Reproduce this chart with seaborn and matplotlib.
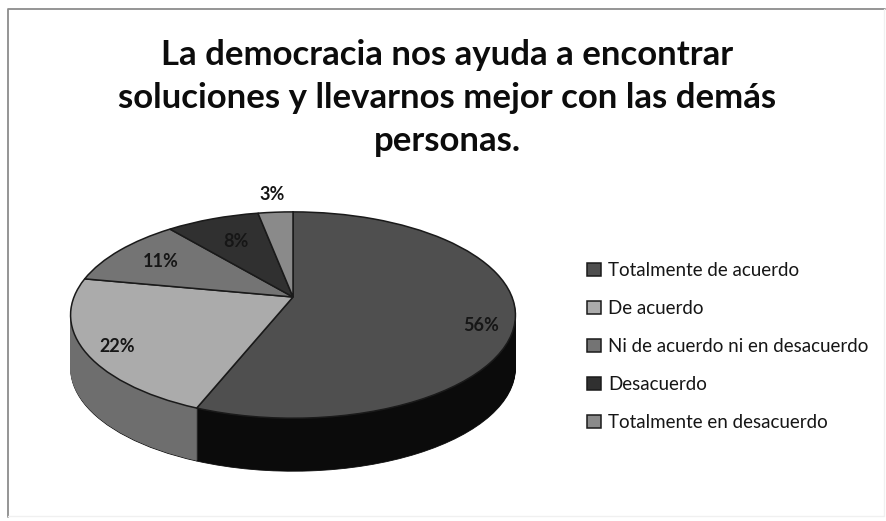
import numpy as np
import matplotlib
matplotlib.use('Agg')
import matplotlib.pyplot as plt
from matplotlib.lines import Line2D
from matplotlib.transforms import Affine2D, Transform
import seaborn as sns

# Chart data
title = 'La democracia nos ayuda a encontrar\nsoluciones y llevarnos mejor con las demás\npersonas.'
categories = ['Totalmente de acuerdo', 'De acuerdo', 'Ni de acuerdo ni en desacuerdo',
              'Desacuerdo', 'Totalmente en desacuerdo']
values = [56, 22, 11, 8, 3]
top_colors = ['#4f4f4f', '#ababab', '#747474', '#303030', '#8a8a8a']
side_colors = ['#0b0b0b', '#6e6e6e', '#555555', '#222222', '#666666']

sns.set_theme(style='white')
plt.rcParams['font.family'] = ['Lato', 'DejaVu Sans']


class Tilted(Transform):
    """Projects the unit circle of the pie onto the tilted disc, in pixels."""
    input_dims = 2
    output_dims = 2
    cx, cy = 293, 297
    a, b, k = 219, 100, 0.175

    def transform_non_affine(self, values):
        x, y = np.asarray(values).T
        w = 1 + self.k * y
        return np.column_stack([self.cx + self.a * x / w, self.cy - self.b * y / w])


fig = plt.figure(figsize=(8.86, 5.21), dpi=100)
ax = fig.add_axes([0, 0, 1, 1])
tilted = Tilted()

# Side of the pie: stacked copies going up to the top face
depth = 53
for d in range(depth, 0, -1):
    wedges, _ = ax.pie(values, colors=side_colors, startangle=90, counterclock=False,
                       wedgeprops={'linewidth': 0.6})
    for w in wedges:
        w.set_edgecolor('#111111' if d == depth else w.get_facecolor())
        w.set_transform(tilted + Affine2D().translate(0, d) + ax.transData)

wedges, _ = ax.pie(values, colors=top_colors, startangle=90, counterclock=False,
                   wedgeprops={'linewidth': 1.1, 'edgecolor': '#1a1a1a'})
for w in wedges:
    w.set_transform(tilted + ax.transData)

ax.set_aspect('auto')
ax.set_xlim(0, 886)
ax.set_ylim(521, 0)
ax.axis('off')

# Percent labels, placed along the middle of each slice
label_radius = [0.85, 0.85, 0.75, 0.68, 1.25]
label_shift = [12, 5, 0, 0, 0]
edges = np.cumsum([0] + values)
for i, v in enumerate(values):
    ang = np.radians((edges[i] + v / 2) * 3.6)
    px, py = tilted.transform_non_affine(
        np.array([[label_radius[i] * np.sin(ang), label_radius[i] * np.cos(ang)]]))[0]
    ax.text(px, py + label_shift[i], f'{v}%', ha='center', va='center', fontsize=13,
            fontweight='bold', color='#161616')

ax.text(447, 98, title, ha='center', va='center', fontsize=25, fontweight='bold',
        color='#0c0c0c', linespacing=1.42)

ax.legend(wedges, categories, loc='upper left', bbox_to_anchor=(587 / 886, 1 - 262 / 521),
          frameon=False, fontsize=13.5, labelspacing=1.12, handlelength=0.72, handleheight=0.72,
          handletextpad=0.42, labelcolor='#161616', borderpad=0, borderaxespad=0)

# Chart frame: left and top are clear in the scan, right and bottom almost gone
ax.add_line(Line2D([8, 8, 885], [517, 9, 9], color='#8c8c8c', linewidth=1.3))
ax.add_line(Line2D([8, 884, 884], [516, 516, 9], color='#f0f0f0', linewidth=1))

fig.savefig('out.png', dpi=100)
